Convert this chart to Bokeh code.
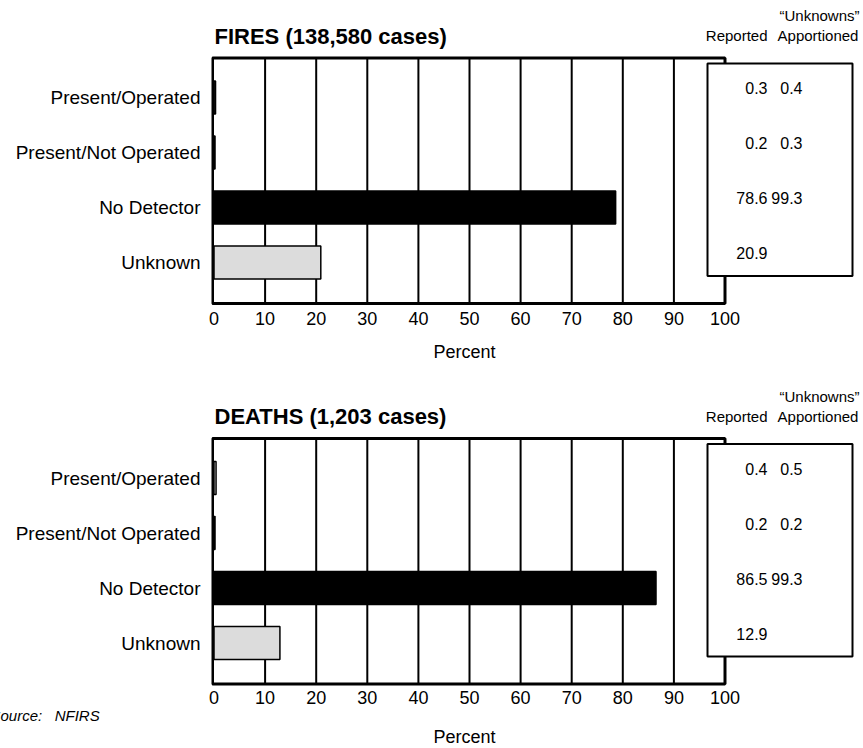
from bokeh.plotting import figure
from bokeh.layouts import column
from bokeh.models import Range1d, FixedTicker, ColumnDataSource, Title
from bokeh.core.properties import value
from bokeh.embed import file_html
from bokeh.resources import INLINE

# ---------------- data ----------------
categories = ["Present/Operated", "Present/Not Operated", "No Detector", "Unknown"]
fires_reported = [0.3, 0.2, 78.6, 20.9]
fires_apportioned = [0.4, 0.3, 99.3, None]
deaths_reported = [0.4, 0.2, 86.5, 12.9]
deaths_apportioned = [0.5, 0.2, 99.3, None]
bar_colors = ["white", "white", "black", "#dcdcdc"]
x_ticks = [0, 10, 20, 30, 40, 50, 60, 70, 80, 90, 100]
fires_title = "FIRES (138,580 cases)"
deaths_title = "DEATHS (1,203 cases)"
header_top = "\u201cUnknowns\u201d"
header_reported = "Reported"
header_apportioned = "Apportioned"
x_label = "Percent"
source_note = "Source:\u00a0\u00a0\u00a0NFIRS"

# ---------------- layout constants (page pixels) ----------------
FONT = "Liberation Sans"
W = 863
FRAME_SX = 211          # page x of the frame's left edge
ZERO_SX = 213.5         # page x of the 0 % line
PX_X = 5.11             # px per percent
PX_Y = 55.0             # px per category


def dx(page_x):
    return (page_x - ZERO_SX) / PX_X


def make_panel(title, reported, apportioned, top, height, frame_bottom, base,
               tick_standoff, label_standoff, note=None, note_standoff=0):
    cat0 = 97 + base

    def dy(page_y):
        return (page_y - cat0) / PX_Y

    x_start = dx(FRAME_SX)
    x_end = x_start + (W - FRAME_SX) / PX_X
    p = figure(width=W, height=height, output_backend="svg", toolbar_location=None,
               title=None,
               x_range=Range1d(x_start, x_end),
               y_range=Range1d(dy(frame_bottom), dy(top)),
               min_border_left=FRAME_SX, min_border_right=0,
               min_border_top=0, min_border_bottom=height - (frame_bottom - top))
    p.outline_line_color = None
    p.background_fill_color = "white"
    p.border_fill_color = "white"
    p.xgrid.visible = False
    p.ygrid.visible = False

    # bottom axis
    p.xaxis.ticker = FixedTicker(ticks=x_ticks)
    p.xaxis.axis_line_color = None
    p.xaxis.major_tick_line_color = None
    p.xaxis.minor_tick_line_color = None
    p.xaxis.major_tick_out = 0
    p.xaxis.major_label_standoff = tick_standoff
    p.xaxis.major_label_text_font = FONT
    p.xaxis.major_label_text_font_size = "18px"
    p.xaxis.major_label_text_color = "black"

    # category axis
    idx = list(range(len(categories)))
    p.yaxis.ticker = FixedTicker(ticks=idx)
    p.yaxis.major_label_overrides = {i: c for i, c in zip(idx, categories)}
    p.yaxis.axis_line_color = None
    p.yaxis.major_tick_line_color = None
    p.yaxis.minor_tick_line_color = None
    p.yaxis.major_tick_out = 0
    p.yaxis.major_label_standoff = 11
    p.yaxis.major_label_text_font = FONT
    p.yaxis.major_label_text_font_size = "19px"
    p.yaxis.major_label_text_color = "black"

    frame_top = dy(57.5 + base)
    frame_bot = dy(303 + base)
    edge = 1.5 / PX_X   # frame line sits just outside the 0 line

    # grid lines
    inner = x_ticks[1:-1]
    p.segment(x0=inner, x1=inner, y0=[frame_top] * len(inner), y1=[frame_bot] * len(inner),
              line_color="black", line_width=2)

    # frame
    p.quad(left=[x_ticks[0] - edge], right=[x_ticks[-1]], top=[frame_top], bottom=[frame_bot],
           fill_color=None, line_color="black", line_width=3)

    # bars
    src = ColumnDataSource(dict(y=idx, right=reported, color=bar_colors))
    p.hbar(y="y", left=0, right="right", height=0.6, fill_color="color",
           line_color="black", line_width=1.5, source=src)

    # value box
    p.quad(left=[dx(707)], right=[dx(852)], top=[dy(63 + base)], bottom=[dy(275.5 + base)],
           fill_color="white", line_color="black", line_width=2)

    # values
    off = -9.5 / PX_Y
    rep_src = ColumnDataSource(dict(x=[dx(767)] * len(idx), y=[i + off for i in idx],
                                    t=["%.1f" % v for v in reported]))
    p.text(x="x", y="y", text="t", source=rep_src, text_font=value(FONT),
           text_font_size="16px", text_align="right", text_baseline="middle", text_color="black")
    ap_i = [i for i, v in zip(idx, apportioned) if v is not None]
    ap_src = ColumnDataSource(dict(x=[dx(802)] * len(ap_i), y=[i + off for i in ap_i],
                                   t=["%.1f" % apportioned[i] for i in ap_i]))
    p.text(x="x", y="y", text="t", source=ap_src, text_font=value(FONT),
           text_font_size="16px", text_align="right", text_baseline="middle", text_color="black")

    # column headers
    p.text(x=[dx(767)], y=[dy(35 + base)], text=[header_reported], text_font=value(FONT),
           text_font_size="15px", text_align="right", text_baseline="middle", text_color="black")
    p.text(x=[dx(817.5)], y=[dy(35 + base)], text=[header_apportioned], text_font=value(FONT),
           text_font_size="15px", text_align="center", text_baseline="middle", text_color="black")
    p.text(x=[dx(819)], y=[dy(15 + base)], text=[header_top], text_font=value(FONT),
           text_font_size="15px", text_align="center", text_baseline="middle", text_color="black")

    # panel title
    p.text(x=[dx(214)], y=[dy(35.5 + base)], text=[title], text_font=value(FONT),
           text_font_size="22px", text_font_style="bold", text_align="left",
           text_baseline="middle", text_color="black")

    # texts under the axis
    if note is not None:
        p.add_layout(Title(text=note, align="left", offset=-10 - FRAME_SX, standoff=note_standoff,
                           vertical_align="top", text_font=FONT, text_font_size="15px",
                           text_font_style="italic", text_color="black"), "below")
    p.add_layout(Title(text=x_label, align="left", offset=433 - FRAME_SX, standoff=label_standoff,
                       vertical_align="top", text_font=FONT, text_font_size="18px",
                       text_font_style="normal", text_color="black"), "below")
    return p


p1 = make_panel(fires_title, fires_reported, fires_apportioned,
                top=0, height=380, frame_bottom=305, base=0,
                tick_standoff=6, label_standoff=28)
p2 = make_panel(deaths_title, deaths_reported, deaths_apportioned,
                top=380, height=368, frame_bottom=686, base=380.5,
                tick_standoff=4, label_standoff=0, note=source_note, note_standoff=1)

layout = column(p1, p2, spacing=0)
open("out.html", "w").write(file_html(layout, INLINE))
